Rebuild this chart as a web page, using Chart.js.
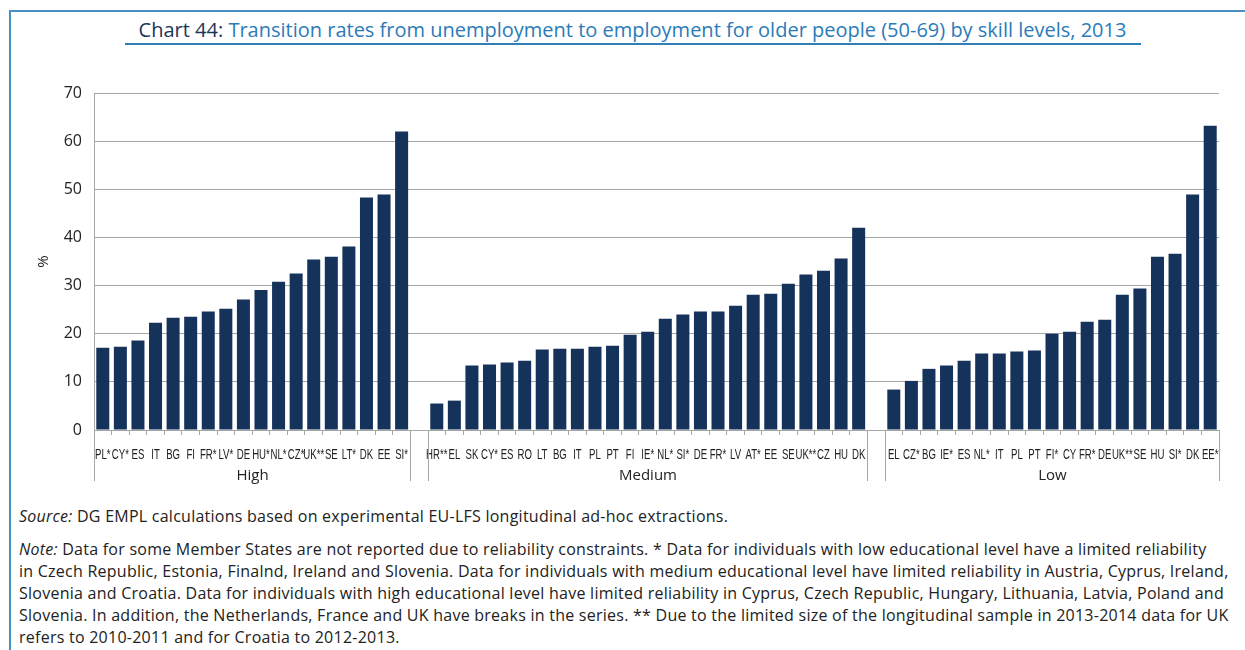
<!DOCTYPE html>
<html>
<head>
<meta charset="utf-8">
<script src="https://cdn.jsdelivr.net/npm/chart.js@4.4.1/dist/chart.umd.min.js"></script>
<style>
  body { margin: 0; background: #fff; }
  #page { position: relative; width: 1245px; height: 650px; overflow: hidden; font-family: 'Open Sans', 'Noto Sans', sans-serif; color: #222; }
  #frame { position: absolute; left: 9px; top: 10px; width: 1240px; height: 660px; border-top: 2px solid #4a8fc2; border-left: 2px solid #4a8fc2; }
  #title { position: absolute; left: 0; width: 1265px; top: 16px; text-align: center; font-size: 20px; color: #2b7bb9; white-space: nowrap; }
  #title b { font-weight: normal; color: #1b3558; }
  #uline { position: absolute; left: 125px; width: 1016px; top: 43px; height: 2px; background: #2f7fb5; }
  #wrap { position: absolute; left: 0; top: 0; width: 1245px; height: 500px; }
  .txt { position: absolute; left: 19px; font-size: 16px; letter-spacing: 0.25px; white-space: nowrap; line-height: 22px; }
</style>
</head>
<body>
<div id="page">
  <div id="frame"></div>
  <div id="title"><b>Chart 44:</b> Transition rates from unemployment to employment for older people (50-69) by skill levels, 2013</div>
  <div id="uline"></div>
  <div id="wrap"><canvas id="chart"></canvas></div>
  <div class="txt" style="top:505px"><i>Source:</i> DG EMPL calculations based on experimental EU-LFS longitudinal ad-hoc extractions.</div>
  <div class="txt" style="top:538px"><i>Note:</i> Data for some Member States are not reported due to reliability constraints. * Data for individuals with low educational level have a limited reliability<br>in Czech Republic, Estonia, Finalnd, Ireland and Slovenia. Data for individuals with medium educational level have limited reliability in Austria, Cyprus, Ireland,<br>Slovenia and Croatia. Data for individuals with high educational level have limited reliability in Cyprus, Czech Republic, Hungary, Lithuania, Latvia, Poland and<br>Slovenia. In addition, the Netherlands, France and UK have breaks in the series. ** Due to the limited size of the longitudinal sample in 2013-2014 data for UK<br>refers to 2010-2011 and for Croatia to 2012-2013.</div>
</div>
<script>
// skill groups
const groups = ['High', 'Medium', 'Low'];

const highLabels = ['PL*', 'CY*', 'ES', 'IT', 'BG', 'FI', 'FR*', 'LV*', 'DE', 'HU*', 'NL*', 'CZ*', 'UK**', 'SE', 'LT*', 'DK', 'EE', 'SI*'];
const highValues = [17.1, 17.3, 18.6, 22.3, 23.3, 23.5, 24.6, 25.2, 27.1, 29.1, 30.8, 32.5, 35.4, 36.0, 38.1, 48.3, 48.9, 62.0];

const mediumLabels = ['HR**', 'EL', 'SK', 'CY*', 'ES', 'RO', 'LT', 'BG', 'IT', 'PL', 'PT', 'FI', 'IE*', 'NL*', 'SI*', 'DE', 'FR*', 'LV', 'AT*', 'EE', 'SE', 'UK**', 'CZ', 'HU', 'DK'];
const mediumValues = [5.5, 6.1, 13.4, 13.6, 14.0, 14.4, 16.7, 16.9, 16.9, 17.3, 17.5, 19.8, 20.4, 23.1, 24.0, 24.6, 24.6, 25.8, 28.1, 28.3, 30.4, 32.3, 33.1, 35.6, 42.0];

const lowLabels = ['EL', 'CZ*', 'BG', 'IE*', 'ES', 'NL*', 'IT', 'PL', 'PT', 'FI*', 'CY', 'FR*', 'DE', 'UK**', 'SE', 'HU', 'SI*', 'DK', 'EE*'];
const lowValues = [8.4, 10.2, 12.7, 13.4, 14.4, 15.9, 15.9, 16.3, 16.5, 20.0, 20.4, 22.5, 22.9, 28.1, 29.4, 36.0, 36.6, 48.9, 63.2];

const yTicks = [0, 10, 20, 30, 40, 50, 60, 70];

// one empty category between the groups
const labels = [...highLabels, '', ...mediumLabels, '', ...lowLabels];
const values = [...highValues, null, ...mediumValues, null, ...lowValues];

// first / last index of every group
const spans = [];
let start = 0;
[highLabels, mediumLabels, lowLabels].forEach(arr => {
    spans.push([start, start + arr.length - 1]);
    start += arr.length + 1;
});

const axisGrey = '#a6a6a6';

// country codes (narrow, like the original) + group labels and separators
const groupAxis = {
    id: 'groupAxis',
    afterDraw(chart) {
        const ctx = chart.ctx;
        const x = chart.scales.x;
        const bottom = chart.chartArea.bottom;
        ctx.save();
        ctx.fillStyle = '#222';
        ctx.textAlign = 'center';
        ctx.textBaseline = 'middle';
        ctx.font = '15.5px "Liberation Sans", Arial, sans-serif';
        const sx = 0.62;
        chart.data.labels.forEach((lab, i) => {
            if (!lab) return;
            const px = x.getPixelForValue(i);
            ctx.save();
            ctx.translate(px, bottom + 25);
            ctx.scale(sx, 1);
            ctx.fillText(lab, 0, 0);
            ctx.restore();
        });

        ctx.strokeStyle = axisGrey;
        ctx.lineWidth = 1;
        ctx.font = '15px "Open Sans", "Noto Sans", sans-serif';
        spans.forEach((s, i) => {
            const x0 = Math.round(x.getPixelForValue(s[0] - 0.5)) + 0.5;
            const x1 = Math.round(x.getPixelForValue(s[1] + 0.5)) + 0.5;
            [x0, x1].forEach(px => {
                ctx.beginPath();
                ctx.moveTo(px, bottom);
                ctx.lineTo(px, bottom + 51);
                ctx.stroke();
            });
            ctx.fillText(groups[i], (x0 + x1) / 2, bottom + 46);
        });
        ctx.restore();
    }
};

new Chart(document.getElementById('chart'), {
    type: 'bar',
    data: {
        labels: labels,
        datasets: [{
            data: values,
            backgroundColor: '#14325a',
            barPercentage: 0.74,
            categoryPercentage: 1
        }]
    },
    options: {
        responsive: true,
        maintainAspectRatio: false,
        animation: false,
        layout: { padding: { left: 35, right: 26, top: 93, bottom: 0 } },
        plugins: {
            legend: { display: false },
            tooltip: { enabled: false }
        },
        scales: {
            x: {
                offset: true,
                afterFit: s => { s.height = 70; },
                border: { color: axisGrey },
                grid: {
                    offset: true,
                    drawOnChartArea: false,
                    tickLength: 5,
                    color: ctx => {
                        const i = ctx.index;
                        return (i === 18 || i === 19 || i === 44 || i === 45) ? 'rgba(0,0,0,0)' : axisGrey;
                    }
                },
                ticks: { display: false, autoSkip: false, maxRotation: 0 }
            },
            y: {
                min: 0,
                max: 70,
                afterFit: s => { s.width = 59; },
                afterBuildTicks: s => { s.ticks = yTicks.map(v => ({ value: v })); },
                border: { color: axisGrey },
                grid: { color: axisGrey, drawTicks: false },
                ticks: {
                    padding: 12,
                    color: '#222',
                    font: { family: "'Open Sans', 'Noto Sans', sans-serif", size: 16 }
                },
                title: {
                    display: true,
                    text: '%',
                    color: '#222',
                    padding: 0,
                    font: { family: "'Open Sans', 'Noto Sans', sans-serif", size: 15 }
                }
            }
        }
    },
    plugins: [groupAxis]
});
</script>
</body>
</html>
